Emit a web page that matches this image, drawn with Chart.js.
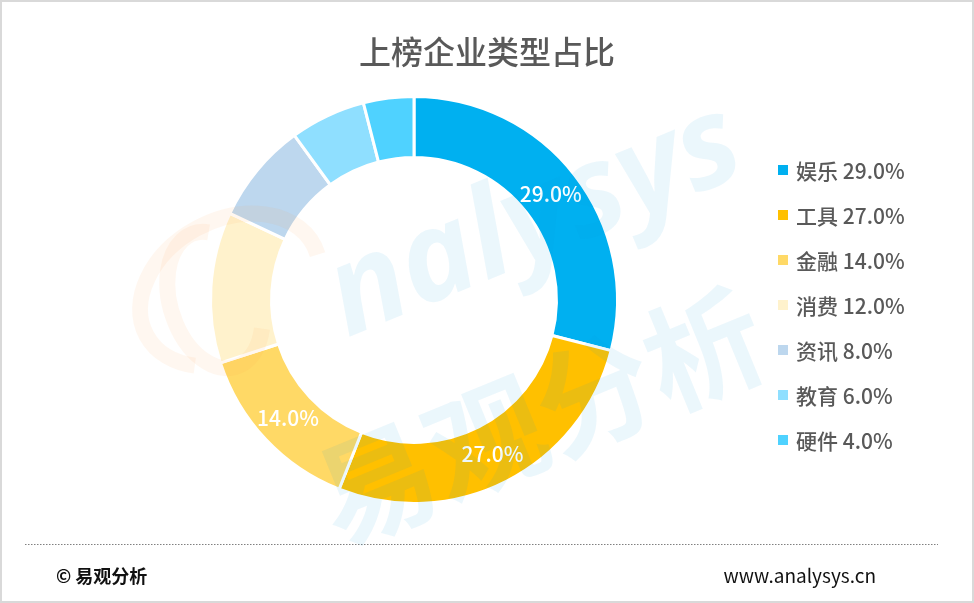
<!DOCTYPE html>
<html>
<head>
  <meta charset="UTF-8">
  <title>上榜企业类型占比</title>
  <script src="https://cdn.jsdelivr.net/npm/chart.js"></script>
</head>
<body style="margin:0;background:#fff">
  <canvas id="chart" width="974" height="603"></canvas>
  <script>
    const labels = ['娱乐', '工具', '金融', '消费', '资讯', '教育', '硬件'];
    const shares = [29.0, 27.0, 14.0, 12.0, 8.0, 6.0, 4.0];
    const colors = ['#00B0F0', '#FFC000', '#FFD966', '#FFF2CC', '#BDD7EE', '#8FDFFF', '#4FD2FF'];
    const titleText = '上榜企业类型占比';
    const sourceText = '© 易观分析';
    const siteText = 'www.analysys.cn';

    const FONT = '"Noto Sans CJK SC", "Noto Sans", sans-serif';
    const fmt = v => v.toFixed(1) + '%';

    // title, legend, footer, slice labels and the faint watermark
    const decor = {
      id: 'decor',
      beforeDraw(chart) {
        const ctx = chart.ctx;
        ctx.save();
        ctx.fillStyle = '#fff';
        ctx.fillRect(0, 0, chart.width, chart.height);
        ctx.strokeStyle = '#d9d9d9';
        ctx.lineWidth = 2;
        ctx.strokeRect(1, 1, chart.width - 2, chart.height - 2);

        ctx.fillStyle = '#595959';
        ctx.font = '500 32px ' + FONT;
        ctx.textAlign = 'center';
        ctx.textBaseline = 'middle';
        ctx.fillText(titleText, 487, 52);

        ctx.textAlign = 'left';
        ctx.font = '500 21px ' + FONT;
        labels.forEach((l, i) => {
          const y = 170 + i * 45;
          ctx.fillStyle = colors[i];
          ctx.fillRect(778, y - 5, 10, 10);
          ctx.fillStyle = '#595959';
          ctx.fillText(l + ' ' + fmt(shares[i]), 796, y + 1);
        });

        ctx.strokeStyle = '#808080';
        ctx.lineWidth = 1;
        ctx.setLineDash([1.5, 1.5]);
        ctx.beginPath();
        ctx.moveTo(25, 544.5);
        ctx.lineTo(938, 544.5);
        ctx.stroke();
        ctx.setLineDash([]);

        ctx.fillStyle = '#111';
        ctx.font = 'bold 18px ' + FONT;
        ctx.fillText(sourceText, 56, 576);
        ctx.textAlign = 'right';
        ctx.font = '19px ' + FONT;
        ctx.fillText(siteText, 876, 576);
        ctx.restore();
      },
      afterDatasetsDraw(chart) {
        const ctx = chart.ctx;
        ctx.save();
        ctx.fillStyle = '#fff';
        ctx.font = '500 21px ' + FONT;
        ctx.textAlign = 'center';
        ctx.textBaseline = 'middle';
        chart.getDatasetMeta(0).data.forEach((arc, i) => {
          if (shares[i] < 14) return;
          const p = arc.getCenterPoint();
          ctx.fillText(fmt(shares[i]), p.x, p.y);
        });

        // watermark
        ctx.strokeStyle = 'rgba(255,150,60,0.08)';
        ctx.lineWidth = 16;
        ctx.beginPath();
        ctx.ellipse(230, 290, 95, 70, -0.5, Math.PI * 0.75, Math.PI * 2.05);
        ctx.stroke();
        ctx.beginPath();
        ctx.ellipse(215, 300, 45, 70, -0.3, Math.PI * 0.2, Math.PI * 1.6);
        ctx.stroke();

        ctx.fillStyle = 'rgba(0,150,220,0.08)';
        ctx.translate(535, 222);
        ctx.rotate(-0.39);
        ctx.font = 'italic bold 125px "Open Sans", sans-serif';
        ctx.fillText('nalysys', 0, 0);
        ctx.rotate(0.39);
        ctx.translate(5, 194);
        ctx.rotate(-0.39);
        ctx.font = 'bold 118px ' + FONT;
        ctx.fillText('易观分析', 0, 0);
        ctx.restore();
      }
    };

    new Chart(document.getElementById('chart'), {
      type: 'doughnut',
      data: {
        labels: labels,
        datasets: [{
          data: shares,
          backgroundColor: colors,
          borderColor: '#fff',
          borderWidth: 3
        }]
      },
      options: {
        responsive: false,
        animation: false,
        cutout: '70%',
        layout: { padding: { left: 209, right: 355, top: 95, bottom: 98 } },
        plugins: {
          legend: { display: false },
          tooltip: { enabled: false }
        }
      },
      plugins: [decor]
    });
  </script>
</body>
</html>
